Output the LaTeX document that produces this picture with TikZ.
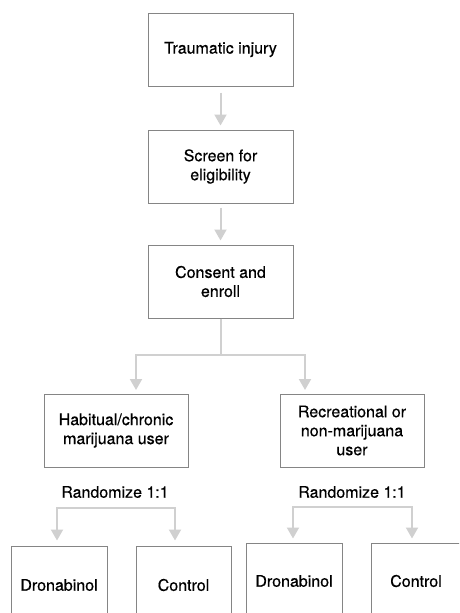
\documentclass[tikz,border=0pt]{standalone}
\usepackage{fontspec}
\setmainfont{TeX Gyre Heros}[FakeBold=0.5]
\usetikzlibrary{arrows.meta,calc}
\definecolor{boxline}{HTML}{858585}
\definecolor{flowline}{HTML}{D0D0D0}
\tikzset{x=1pt, y=-1pt,
    stage box/.style={draw=boxline, line width=1pt, fill=white, align=center,
          minimum width=145pt, minimum height=73pt, inner sep=2pt,
          font=\fontsize{16}{19}\selectfont},
    arm box/.style={stage box, minimum width=96pt, minimum height=78pt},
    arm label/.style={font=\fontsize{16}{19}\selectfont},
    flow/.style={draw=flowline, line width=2pt,
          -{Triangle[width=12pt,length=11pt]}},
    flow line/.style={draw=flowline, line width=2pt}
    }
\begin{document}
\begin{tikzpicture}
\useasboundingbox (0,0) rectangle (459,613);
\clip (0,0) rectangle (459,613);
% main stages
\node (Injury) [stage box] at (220.5,49.5) {Traumatic injury};
\node (Screen) [stage box] at (220.5,166.5) {Screen for\\eligibility};
\node (Consent) [stage box] at (220.5,281.5) {Consent and\\enroll};
\draw[flow, shorten <=6pt, shorten >=4pt] (Injury) -- (Screen);
\draw[flow, shorten <=4pt, shorten >=4pt] (Screen) -- (Consent);
% user groups
\node (Habitual) [stage box, minimum width=144pt] at (116,430.5) {Habitual/chronic\\marijuana user};
\node (Recreational) [stage box, minimum width=144pt] at (352,430.5) {Recreational or\\non-marijuana\\user};
\coordinate (Fork) at (220.5,355);
\coordinate (HabitualIn) at (136,390);
\coordinate (RecreationalIn) at (305,390);
\draw[flow line] (Consent.south) -- (Fork);
\draw[flow] (Fork) -| (HabitualIn);
\draw[flow] (Fork) -| (RecreationalIn);
% randomization
\node (RandLeft) [arm label] at (115,492) {Randomize 1:1};
\node (RandRight) [arm label] at (352,492) {Randomize 1:1};
\node (DronLeft) [arm box] at (59,585) {Dronabinol};
\node (CtrlLeft) [arm box, minimum width=95pt] at (183.5,585) {Control};
\node (DronRight) [arm box, minimum height=76pt] at (294,581) {Dronabinol};
\node (CtrlRight) [arm box, minimum width=90pt, minimum height=76pt] at (416,581) {Control};
\coordinate (ForkLeftA) at (57,508);
\coordinate (ForkLeftB) at (175,508);
\coordinate (ForkRightA) at (293,507);
\coordinate (ForkRightB) at (412,507);
\draw[flow] (ForkLeftB) -- (ForkLeftA) -- ($(ForkLeftA |- DronLeft.north)+(0,-5)$);
\draw[flow] (ForkLeftA) -- (ForkLeftB) -- ($(ForkLeftB |- CtrlLeft.north)+(0,-5)$);
\draw[flow] (ForkRightB) -- (ForkRightA) -- ($(ForkRightA |- DronRight.north)+(0,-4)$);
\draw[flow] (ForkRightA) -- (ForkRightB) -- ($(ForkRightB |- CtrlRight.north)+(0,-4)$);
\end{tikzpicture}
\end{document}
